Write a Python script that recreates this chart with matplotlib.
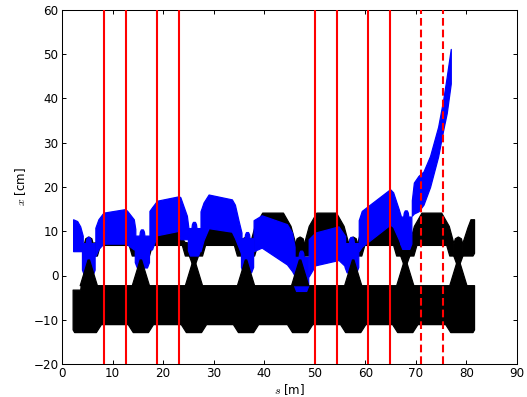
import matplotlib
matplotlib.use("Agg")
import matplotlib.pyplot as plt
import numpy as np

# ---------------- data ----------------
quad_s = [5.3, 15.6, 26.1, 36.4, 47.1, 57.6, 67.9, 78.4]
cell_top = [10.5, 10.5, 10.8, 14.1, 14.1, 14.1, 14.1]
lattice_start = 2.2
lattice_end = 81.6
upper_bot = 6.8
neck_bot = 4.4
knob_top = 8.7
spike_apex = 3.5
lower_top = -2.3
lower_bot = -11.1
lower_deep = -12.9

blue_s = [
    [2.2, 3.0, 3.6, 4.1],
    [6.6, 7.2, 8.2, 12.5, 12.9, 14.2, 14.5],
    [17.3, 17.8, 18.8, 23.1, 23.4, 24.7, 25.0],
    [27.4, 28.0, 29.0, 33.6, 34.2, 34.9, 35.5],
    [37.9, 39.5, 44.5, 45.5, 46.0],
    [48.8, 50.1, 54.7, 56.0],
    [58.7, 59.3, 64.9, 65.5, 66.6, 67.0],
    [69.2, 69.6, 70.5, 71.5, 72.8, 74.4, 75.4, 76.1, 76.9],
]
blue_top = [
    [12.7, 12.3, 11.1, 9.0],
    [10.8, 12.7, 14.2, 15.0, 14.6, 12.7, 10.5],
    [14.6, 15.4, 16.9, 17.9, 17.7, 13.5, 10.8],
    [14.5, 16.5, 18.3, 17.2, 16.0, 12.5, 9.7],
    [12.5, 13.6, 11.6, 9.7, 6.5],
    [8.2, 9.7, 11.1, 8.9],
    [12.5, 14.6, 19.5, 18.8, 15.0, 13.5],
    [17.0, 21.0, 22.5, 23.5, 27.0, 33.6, 39.7, 44.9, 51.2],
]
blue_bot = [
    [5.5, 5.5, 5.5, 5.5],
    [4.4, 6.0, 7.2, 7.2, 7.0, 5.9, 5.9],
    [5.9, 5.9, 9.1, 10.1, 8.2, 8.2, 8.2],
    [5.5, 8.0, 10.7, 9.9, 8.5, 6.5, 4.8],
    [5.5, 6.3, 2.5, 1.0, 0.0],
    [-0.2, 2.3, 3.5, 2.1],
    [5.5, 6.5, 11.5, 11.0, 8.2, 7.0],
    [13.5, 14.0, 14.5, 16.0, 20.0, 26.9, 32.9, 36.7, 43.4],
]
knob_c = [5.3, 15.9, 26.2, 36.7, 47.4, 57.35, 68.1]
knob_hw = [1.25, 1.4, 1.2, 1.2, 1.4, 1.35, 1.1]
knob_t = [8.6, 10.3, 12.0, 9.7, 5.5, 8.6, 14.6]
knob_b = [0.0, 1.7, 4.4, 0.6, -3.6, 0.6, 5.9]

dipole_s = [8.3, 12.7, 18.8, 23.1, 50.0, 54.4, 60.5, 64.9]
dashed_s = [71.0, 75.3]

xticks = [0, 10, 20, 30, 40, 50, 60, 70, 80, 90]
yticks = [-20, -10, 0, 10, 20, 30, 40, 50, 60]

# ---------------- figure ----------------
plt.rcParams['mathtext.fontset'] = 'cm'
fig = plt.figure(figsize=(5.27, 3.97), dpi=100)
ax = fig.add_axes([62 / 527, 33 / 397, 455 / 527, 354 / 397])

BLK = '#000000'
BLU = '#0000ff'
EDGE = dict(lw=0.9, joinstyle='round')


def poly(xs, ys, color, z):
    ax.fill(xs, ys, facecolor=color, edgecolor=color, zorder=z, **EDGE)


# black upper bands
for i in range(len(cell_top)):
    a, b, T = quad_s[i], quad_s[i + 1], cell_top[i]
    xs = [a + 0.9, a + 1.8, a + 3.3, b - 3.3, b - 1.8, b - 0.9,
          b - 0.9, b - 1.7, b - 2.3, a + 2.3, a + 1.7, a + 0.9]
    ys = [7.3, T - 3.0, T, T, T - 3.0, 7.3,
          neck_bot, neck_bot, upper_bot, upper_bot, neck_bot, neck_bot]
    poly(xs, ys, BLK, 1)
q = quad_s[-1]
poly([q + 0.9, q + 0.9, q + 1.9, q + 2.5, lattice_end, lattice_end, lattice_end - 0.3],
     [neck_bot, 7.3, 10.8, 12.6, 12.6, 5.0, neck_bot], BLK, 1)

# knobs + necks at quadrupoles
for q in quad_s:
    xs = [q - 0.9, q - 0.9, q - 0.6, q, q + 0.6, q + 0.9, q + 0.9, q + 0.3, q + 0.3, q - 0.3, q - 0.3]
    ys = [neck_bot, 7.0, 8.3, knob_top, 8.3, 7.0, neck_bot, 2.5, lower_top, lower_top, 2.5]
    poly(xs, ys, BLK, 1)

# lower band
top_x = [lattice_start, quad_s[0] - 1.6, quad_s[0] - 1.5, lattice_end]
top_y = [-3.3, -3.3, lower_top, lower_top]
bx = [lattice_start, lattice_start + 0.3]
by = [-12.3, lower_deep]
for i in range(len(quad_s) - 1):
    a, b = quad_s[i], quad_s[i + 1]
    bx += [a + 1.5, a + 2.5, b - 2.5, b - 1.5]
    by += [lower_deep, lower_bot, lower_bot, lower_deep]
bx += [lattice_end - 0.3, lattice_end]
by += [lower_deep, -12.3]
poly(top_x + bx[::-1], top_y + by[::-1], BLK, 1)

# blue envelope
for s_, t_, b_ in zip(blue_s, blue_top, blue_bot):
    ax.fill_between(s_, b_, t_, facecolor=BLU, edgecolor=BLU, zorder=2, **EDGE)
for c, hw, kt, kb in zip(knob_c, knob_hw, knob_t, knob_b):
    xs = [c - hw, c - hw, c - 0.5, c - 0.4, c - 0.2, c + 0.2, c + 0.4, c + 0.5,
          c + hw, c + hw, c + hw - 0.4, c - hw + 0.4]
    ys = [kb + 1.2, kt - 1.4, kt - 1.4, kt - 0.5, kt, kt, kt - 0.5, kt - 1.4,
          kt - 1.4, kb + 1.2, kb, kb]
    poly(xs, ys, BLU, 2)

# lower spikes on top
for q in quad_s:
    poly([q - 1.7, q - 0.15, q + 0.15, q + 1.7],
         [lower_top, spike_apex, spike_apex, lower_top], BLK, 3)

# dipole markers
for s in dipole_s:
    ax.axvline(s, color='#ff0000', lw=1.5, zorder=4)
for s in dashed_s:
    ax.axvline(s, color='#ff0000', lw=1.5, ls=(0, (3.7, 1.9)), zorder=4)

ax.set_xlim(0, 90)
ax.set_ylim(-20, 60)
ax.set_xticks(xticks)
ax.set_yticks(yticks)
ax.tick_params(direction='in', top=True, right=True, length=3, width=0.7,
               labelsize=8.6, pad=2.5)
for sp in ax.spines.values():
    sp.set_linewidth(0.75)
ax.set_xlabel('$s$ [m]', fontsize=8.6, labelpad=1)
ax.set_ylabel('$x$ [cm]', fontsize=8.6, labelpad=4)

fig.savefig('out.png', dpi=100)
